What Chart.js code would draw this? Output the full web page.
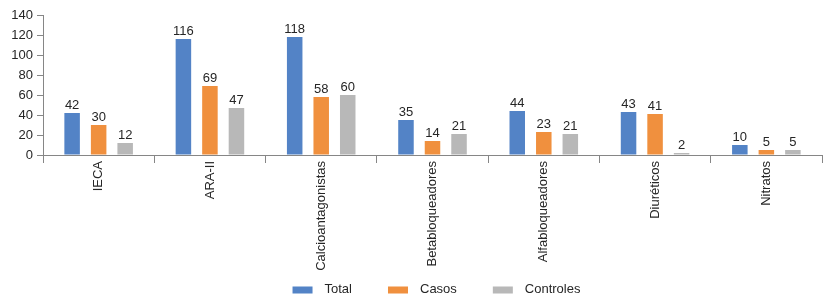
<!DOCTYPE html>
<html lang="es">
<head>
  <meta charset="UTF-8">
  <title>Fármacos antihipertensivos</title>
  <script src="https://cdn.jsdelivr.net/npm/chart.js"></script>
  <style>
    body {
      margin: 0;
      background: #fff;
    }

    .chart-box {
      width: 832px;
      height: 299px;
    }
  </style>
</head>
<body>

<div class="chart-box">
  <canvas id="barChart"></canvas>
</div>

<script>
  // Data
  const categories = ['IECA', 'ARA-II', 'Calcioantagonistas', 'Betabloqueadores', 'Alfabloqueadores', 'Diuréticos', 'Nitratos'];
  const total = [42, 116, 118, 35, 44, 43, 10];
  const casos = [30, 69, 58, 14, 23, 41, 5];
  const controles = [12, 47, 60, 21, 21, 2, 5];
  const yTicks = [0, 20, 40, 60, 80, 100, 120, 140];

  const axisColor = '#868686';
  const textColor = '#262626';

  Chart.defaults.font.family = "'Liberation Sans', Arial, sans-serif";
  Chart.defaults.font.size = 13;
  Chart.defaults.color = textColor;

  // Value labels on top of each bar
  const valueLabels = {
    id: 'valueLabels',
    afterDatasetsDraw(chart) {
      const ctx = chart.ctx;
      ctx.save();
      ctx.font = "13px 'Liberation Sans', Arial, sans-serif";
      ctx.fillStyle = textColor;
      ctx.textAlign = 'center';
      ctx.textBaseline = 'alphabetic';
      chart.data.datasets.forEach((ds, i) => {
        chart.getDatasetMeta(i).data.forEach((bar, j) => {
          ctx.fillText(ds.data[j], bar.x, bar.y - 4);
        });
      });
      ctx.restore();
    }
  };

  // Legend under the chart, roughly centered on the plot area
  const bottomLegend = {
    id: 'bottomLegend',
    afterDraw(chart) {
      const ctx = chart.ctx;
      const boxW = 20, boxH = 7, gap = 12, spacing = 36;
      ctx.save();
      ctx.font = "13px 'Liberation Sans', Arial, sans-serif";
      const items = chart.data.datasets.map(ds => ({
        text: ds.label,
        color: ds.backgroundColor,
        w: boxW + gap + ctx.measureText(ds.label).width
      }));
      const full = items.reduce((s, it) => s + it.w, 0) + spacing * (items.length - 1);
      const area = chart.chartArea;
      let x = (area.left + area.right) / 2 - full / 2 + 4;
      const y = chart.height - 10;
      ctx.textBaseline = 'middle';
      ctx.textAlign = 'left';
      items.forEach(it => {
        ctx.fillStyle = it.color;
        ctx.fillRect(x, y - boxH / 2 + 1, boxW, boxH);
        ctx.fillStyle = textColor;
        ctx.fillText(it.text, x + boxW + gap, y);
        x += it.w + spacing;
      });
      ctx.restore();
    }
  };

  const ctx = document.getElementById('barChart').getContext('2d');
  const chart = new Chart(ctx, {
    type: 'bar',
    data: {
      labels: categories,
      datasets: [
        { label: 'Total', data: total, backgroundColor: '#5383c6' },
        { label: 'Casos', data: casos, backgroundColor: '#f0903e' },
        { label: 'Controles', data: controles, backgroundColor: '#b8b8b8' }
      ]
    },
    options: {
      responsive: true,
      maintainAspectRatio: false,
      animation: false,
      categoryPercentage: 0.715,
      barPercentage: 0.585,
      layout: {
        padding: { left: 10, right: 10, top: 15, bottom: 24 }
      },
      plugins: {
        legend: { display: false },
        tooltip: { enabled: false }
      },
      scales: {
        x: {
          afterFit(scale) {
            scale.height = 120;
          },
          grid: {
            display: true,
            drawOnChartArea: false,
            drawTicks: true,
            tickLength: 8,
            color: axisColor,
            offset: true
          },
          border: { display: true, color: axisColor },
          ticks: {
            minRotation: 90,
            maxRotation: 90,
            autoSkip: false,
            padding: -2
          }
        },
        y: {
          min: 0,
          max: 140,
          afterBuildTicks(axis) {
            axis.ticks = yTicks.map(v => ({ value: v }));
          },
          afterFit(scale) {
            scale.width = 33;
          },
          grid: {
            display: true,
            drawOnChartArea: false,
            tickLength: 6,
            color: axisColor
          },
          border: { display: true, color: axisColor },
          ticks: { padding: 4 }
        }
      }
    },
    plugins: [valueLabels, bottomLegend]
  });
</script>

</body>
</html>
